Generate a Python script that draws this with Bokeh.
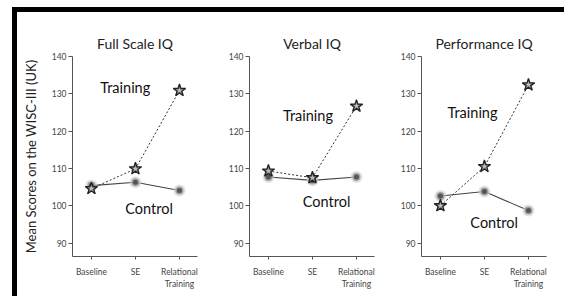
from bokeh.plotting import figure
from bokeh.layouts import row, Spacer
from bokeh.models import Range1d, FixedTicker, Label
from bokeh.embed import file_html
from bokeh.resources import INLINE

# ---- data ----
phases = ["Baseline", "SE", "Relational\nTraining"]
panel_titles = ["Full Scale IQ", "Verbal IQ", "Performance IQ"]
training_full = [104.6, 109.9, 130.9]
control_full = [105.4, 106.3, 104.1]
training_verbal = [109.3, 107.5, 126.7]
control_verbal = [107.7, 106.8, 107.7]
training_perf = [100.0, 110.5, 132.4]
control_perf = [102.6, 103.8, 98.7]
y_ticks = [90, 100, 110, 120, 130, 140]

training = [training_full, training_verbal, training_perf]
control = [control_full, control_verbal, control_perf]

# label anchor positions (data units: x = left edge, y = middle)
train_lbl = [(0.20, 131.7), (0.33, 124.2), (0.16, 125.1)]
ctrl_lbl = [(0.77, 99.3), (0.78, 101.2), (0.68, 95.6)]

FONT = "Lato"
xs = list(range(len(phases)))

widths = [205, 172, 165]
left_b = [55, 27, 27]
right_b = [25, 20, 13]
H = 284

figs = []
for i in range(3):
    p = figure(width=widths[i], height=H, output_backend="svg", toolbar_location=None,
               x_range=Range1d(-0.43, 2.41), y_range=Range1d(86.4, 140),
               min_border_left=left_b[i], min_border_right=right_b[i],
               min_border_top=44, min_border_bottom=40,
               title=panel_titles[i])
    p.outline_line_color = None
    p.background_fill_color = "white"
    p.border_fill_color = "white"
    p.grid.visible = False
    p.title.text_font = FONT
    p.title.text_font_size = "14px"
    p.title.text_font_style = "normal"
    p.title.text_color = "#222222"
    p.title.align = "center"
    p.title.standoff = 9

    # axes
    for ax in (p.xaxis[0], p.yaxis[0]):
        ax.axis_line_color = "#555555"
        ax.axis_line_width = 1
        ax.major_tick_line_color = "#555555"
        ax.minor_tick_line_color = None
        ax.major_tick_in = 0
        ax.major_label_text_font = FONT
        ax.major_label_text_font_size = "8.5px"
        ax.major_label_text_color = "#444444"
    p.xaxis.ticker = FixedTicker(ticks=xs)
    p.xaxis.major_label_overrides = {x: lab for x, lab in zip(xs, phases)}
    p.xaxis.major_tick_out = 3
    p.xaxis.major_label_standoff = 7
    p.yaxis.ticker = FixedTicker(ticks=y_ticks)
    p.yaxis.major_tick_out = 4
    p.yaxis.major_label_standoff = 2
    if i == 0:
        p.yaxis.axis_label = "Mean Scores on the WISC-III (UK)"
        p.yaxis.axis_label_text_font = FONT
        p.yaxis.axis_label_text_font_size = "13px"
        p.yaxis.axis_label_text_font_style = "normal"
        p.yaxis.axis_label_text_color = "#222222"
        p.yaxis.axis_label_standoff = 10

    # control: solid line + blurred dots
    p.line(xs, control[i], line_color="#444444", line_width=1.1)
    p.scatter(xs, control[i], size=12, fill_color="#cfcfcf", fill_alpha=0.6, line_color=None)
    p.scatter(xs, control[i], size=8, fill_color="#9a9a9a", fill_alpha=0.9, line_color=None)
    p.scatter(xs, control[i], size=5, fill_color="#555555", line_color=None)

    # training: dotted line + stars
    p.line(xs, training[i], line_color="#333333", line_width=1, line_dash="2 2")
    p.scatter(xs, training[i], marker="star", size=13, fill_color="#8c8c8c",
              line_color="#222222", line_width=1.3)
    p.scatter(xs, training[i], marker="star", size=5, fill_color="#c4c4c4",
              line_color=None)

    tx, ty = train_lbl[i]
    cx, cy = ctrl_lbl[i]
    p.add_layout(Label(x=tx, y=ty, text="Training", text_font=FONT, text_font_size="14.5px",
                       text_color="#111111", text_baseline="middle", text_align="left"))
    p.add_layout(Label(x=cx, y=cy, text="Control", text_font=FONT, text_font_size="14.5px",
                       text_color="#111111", text_baseline="middle", text_align="left"))
    figs.append(p)

layout = row(*figs, Spacer(width=10, height=H),
             styles={"margin-left": "12px",
                     "margin-top": "7px",
                     "border-left": "5px solid black",
                     "border-top": "5px solid black"})

open("out.html", "w").write(file_html(layout, INLINE))
